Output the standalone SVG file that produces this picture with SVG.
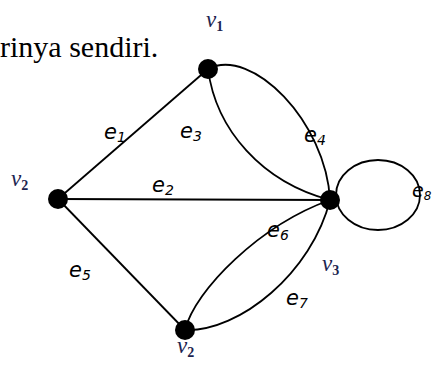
<svg xmlns="http://www.w3.org/2000/svg" width="433" height="365" viewBox="0 0 433 365">
<style>
.edge{fill:none;stroke:#000;stroke-width:1.8}
.node{fill:#000}
.el{font-family:"DejaVu Sans",sans-serif;font-style:italic;font-size:21px;fill:#000}
.el tspan{font-size:14px}
.vl{font-family:"Liberation Serif",serif;font-style:italic;font-size:23px;fill:#1c2450}
.vl tspan{font-size:14px;font-style:normal;font-weight:bold}
.txt{font-family:"Liberation Serif",serif;font-size:30px;fill:#000}
</style>
<rect width="433" height="365" fill="#fff"/>
<text class="txt" x="0" y="57">rinya sendiri.</text>
<g id="connectors">
<line class="edge" x1="58" y1="199" x2="208" y2="69"/>
<line class="edge" x1="58" y1="199" x2="330" y2="200"/>
<line class="edge" x1="58" y1="199" x2="185" y2="330"/>
<path class="edge" d="M208,69 C216,130 262,182 330,200"/>
<path class="edge" d="M208,69 C252,46 326,122 330,200"/>
<path class="edge" d="M185,330 C195,290 260,225 330,200"/>
<path class="edge" d="M185,330 C240,332 312,272 330,200"/>
<ellipse class="edge" cx="378" cy="195" rx="42" ry="35"/>
</g>
<g id="v1"><circle class="node" cx="208" cy="69" r="10"/><text class="vl" x="206" y="27">v<tspan dy="4">1</tspan></text></g>
<g id="v2a"><circle class="node" cx="58" cy="199" r="10"/><text class="vl" x="11" y="186">v<tspan dy="4">2</tspan></text></g>
<g id="v3"><circle class="node" cx="330" cy="200" r="10"/><text class="vl" x="322" y="271">v<tspan dy="4">3</tspan></text></g>
<g id="v2b"><circle class="node" cx="185" cy="330" r="10"/><text class="vl" x="177" y="353">v<tspan dy="4">2</tspan></text></g>
<g id="labels">
<text class="el" x="104" y="139">e<tspan dy="3">1</tspan></text>
<text class="el" x="180" y="138">e<tspan dy="3">3</tspan></text>
<text class="el" x="304" y="142">e<tspan dy="3">4</tspan></text>
<text class="el" x="152" y="192">e<tspan dy="3">2</tspan></text>
<text class="el" x="267" y="237">e<tspan dy="3">6</tspan></text>
<text class="el" x="69" y="277">e<tspan dy="3">5</tspan></text>
<text class="el" x="286" y="305">e<tspan dy="3">7</tspan></text>
<text class="el" x="412" y="197" style="font-size:19px">e<tspan dy="3" style="font-size:12px">8</tspan></text>
</g>
</svg>
